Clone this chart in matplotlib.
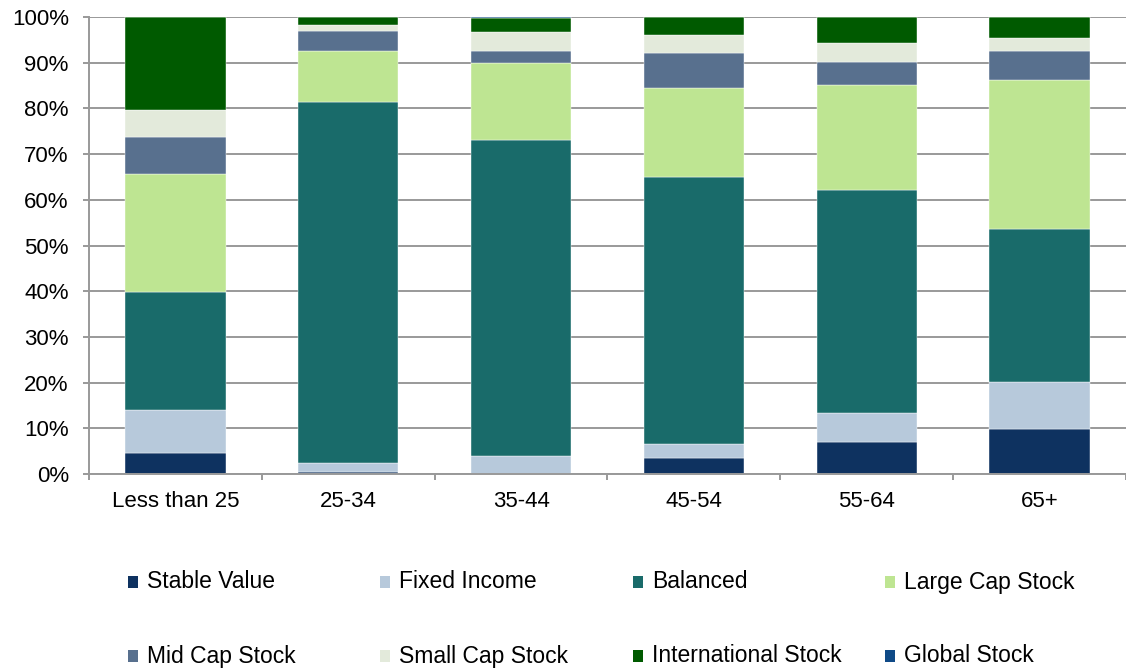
import matplotlib.pyplot as plt
import matplotlib.patches as mpatches
import numpy as np

plt.rcParams['font.family'] = ['Liberation Sans', 'DejaVu Sans']

age_groups = ["Less than 25", "25-34", "35-44", "45-54", "55-64", "65+"]

# allocation share (%) per asset class, one value per age group
stable_value = [4.7, 0.4, 0.0, 3.5, 6.9, 9.9]
fixed_income = [9.3, 1.9, 3.9, 3.0, 6.4, 10.3]
balanced = [25.8, 79.2, 69.2, 58.4, 48.9, 33.4]
large_cap = [25.9, 11.1, 16.8, 19.5, 22.9, 32.6]
mid_cap = [8.1, 4.4, 2.7, 7.8, 5.1, 6.4]
small_cap = [5.8, 1.3, 4.2, 3.8, 4.1, 2.7]
international = [20.4, 1.7, 2.9, 4.0, 5.7, 4.7]
global_stock = [0.0, 0.0, 0.3, 0.0, 0.0, 0.0]

series = [
    ("Stable Value", stable_value, "#0E3260"),
    ("Fixed Income", fixed_income, "#B7C9DB"),
    ("Balanced", balanced, "#196B6A"),
    ("Large Cap Stock", large_cap, "#BEE592"),
    ("Mid Cap Stock", mid_cap, "#58708E"),
    ("Small Cap Stock", small_cap, "#E3EADB"),
    ("International Stock", international, "#005A00"),
    ("Global Stock", global_stock, "#0F4A87"),
]

W, H = 1126, 670
fig = plt.figure(figsize=(W / 100, H / 100), dpi=100)
left_px, top_px, bottom_px = 89, 17, 474
ax = fig.add_axes([left_px / W, 1 - bottom_px / H,
                   (W - left_px) / W, (bottom_px - top_px) / H])

x = np.arange(len(age_groups))
bottom = np.zeros(len(age_groups))
for name, vals, color in series:
    vals = np.array(vals)
    ax.bar(x, vals, width=0.58, bottom=bottom, color=color,
           edgecolor="#ffffff", linewidth=0.3, zorder=3)
    bottom += vals

grid_color = "#999999"
ax.set_ylim(0, 100)
# 175 px per category, the axes runs off the right edge of the figure
ax.set_xlim(-0.5, -0.5 + (W - left_px) / 175)
ax.set_yticks(np.arange(0, 101, 10))
ax.set_yticklabels([f"{v}%" for v in range(0, 101, 10)])
ax.yaxis.grid(True, color=grid_color, linewidth=1.4, zorder=0)

ax.set_xticks(x)
ax.set_xticklabels(age_groups)
ax.set_xticks(np.arange(-0.5, len(age_groups)), minor=True)
ax.tick_params(axis="x", which="major", length=0, pad=12.5, labelsize=16)
ax.tick_params(axis="x", which="minor", length=4, color=grid_color, width=1.4)
ax.tick_params(axis="y", length=4, color=grid_color, width=1.4, pad=10.5,
               labelsize=16)

for side in ["top", "right"]:
    ax.spines[side].set_visible(False)
for side in ["left", "bottom"]:
    ax.spines[side].set_color(grid_color)
    ax.spines[side].set_linewidth(1.4)
    ax.spines[side].set_zorder(4)

# legend laid out by hand: two rows of four evenly spaced entries
col_px = [128, 380, 633, 885]
row_px = [582, 656]
for i, (name, vals, color) in enumerate(series):
    cx = col_px[i % 4]
    cy = row_px[i // 4]
    fig.patches.append(mpatches.Rectangle(
        (cx / W, 1 - (cy + 6) / H), 10 / W, 12 / H,
        transform=fig.transFigure, facecolor=color, edgecolor="none"))
    fig.text((cx + 19) / W, 1 - cy / H, name, fontsize=16.5,
             va="center", ha="left")

fig.savefig("out.png", dpi=100)
